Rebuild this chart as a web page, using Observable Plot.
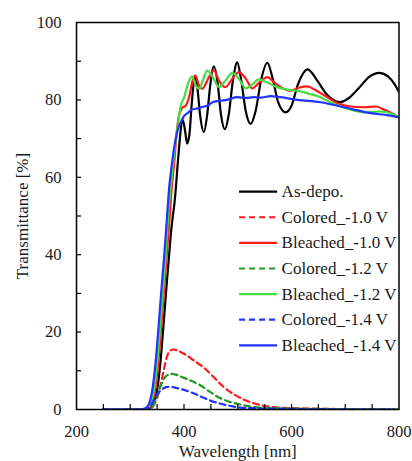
<!DOCTYPE html>
<html>
<head>
<meta charset="utf-8">
<script src="https://cdn.jsdelivr.net/npm/d3@7"></script>
<script src="https://cdn.jsdelivr.net/npm/@observablehq/plot@0.6"></script>
<style>
  html, body { margin: 0; padding: 0; background: #fff; font-family: "Liberation Serif", serif; }
  #chart svg { display: block; }
  svg text, svg tspan { font-family: "Liberation Serif", serif !important; }
</style>
</head>
<body>
<div id="chart"></div>
<script>
// ---- Tick labels ----
const xTicks = [200, 400, 600, 800];
const yTicks = [0, 20, 40, 60, 80, 100];
const xMinorTicks = [250, 300, 350, 400, 450, 500, 550, 600, 650, 700, 750];
const yMinorTicks = [10, 20, 30, 40, 50, 60, 70, 80, 90];

// ---- Series names ----
const seriesNames = ["As-depo.", "Colored_-1.0 V", "Bleached_-1.0 V", "Colored_-1.2 V", "Bleached_-1.2 V", "Colored_-1.4 V", "Bleached_-1.4 V"];

// ---- Series values: [wavelength nm, transmittance %] ----
const asDepo = [
  [250,0],[330,0],[338,0.5],[344,2],[350,5],[356,12],[362,22],[367,31],[372,39.4],[376,46],[379,49.7],
  [382,53],[385,57.5],[388,63],[392,69.5],[395,73.5],[398,74.8],[402,72],[406,68.7],[410,71],[415,80],
  [420,86],[425,83],[430,76],[437,71.7],[443,76],[449,84],[455.6,88.7],[462,85],[469,76],[476,72.4],
  [483,76],[491,85],[499,89.7],[506,85.5],[515,77],[524,73.8],[533,77],[544,85.5],[555,89.6],[565,85.5],
  [575,79.5],[589,76.8],[600,78.5],[612,84],[630,87.9],[648,85],[665,81.5],[690,79.4],[705,80.3],
  [725,83],[745,86],[763,87],[780,86],[792,84],[800,82]
];
const colored10 = [
  [250,0],[335,0],[343,1],[350,3],[356,6],[362,10],[368,13.5],[374,15.2],[381,15.5],[390,15.1],[400,14.4],
  [418,12.7],[437,10.8],[455,8.4],[474,5.8],[493,3.9],[511,2.6],[530,1.6],[549,0.95],[567,0.6],
  [600,0.35],[650,0.2],[700,0.1],[800,0]
];
const bleached10 = [
  [250,0],[325,0],[333,0.3],[340,1.5],[346,5],[352,12],[358,22],[363,31],[368,40],[373,49],[377,57],
  [382,64],[386,71],[390,75.5],[397,78],[403,78.5],[410,81],[416,85],[421.5,86.3],[427,84],[434,82.9],
  [445,85.5],[455.6,87.6],[465,85],[477,83.3],[490,85.5],[502,87.2],[515,85.5],[527,83],[540,84.5],
  [555,85.9],[568,84.5],[580,83.3],[598,82.4],[615,83.2],[629,83.5],[645,82.5],[665,80.8],[688,79],
  [710,78.3],[735,78.1],[757,78.3],[775,77.3],[790,76.3],[800,75.5]
];
const colored12 = [
  [250,0],[335,0],[342,0.8],[348,2.5],[355,5.5],[362,7.8],[368,8.8],[376,9.2],[385,9],[394,8.5],
  [412,7.5],[431,6.2],[449,4.5],[468,2.9],[487,1.9],[505,1.3],[530,0.6],[570,0.35],[620,0.2],
  [700,0.1],[800,0]
];
const bleached12 = [
  [250,0],[323,0],[331,0.3],[338,1.5],[344,5],[350,12],[356,22],[361,31],[366,40],[370,49],[375,57],
  [380,64],[385,70],[390,75],[394,78.6],[400,80.5],[407,84],[415,86.1],[421,84],[428,82.9],[435,85],
  [443,87.6],[453,86],[465,83.3],[477,85],[490,87],[502,85.5],[515,83],[527,84],[539,85.3],[555,84.5],
  [573,83.3],[595,82.6],[617,82.2],[635,81.5],[654,80.7],[670,79.5],[688,78.5],[710,77.5],[735,76.8],
  [766,77],[785,76.5],[800,75.5]
];
const colored14 = [
  [250,0],[330,0],[337,0.8],[344,2.5],[352,4.3],[360,5.3],[367,5.8],[374,5.9],[385,5.6],[394,5.3],
  [412,4.5],[431,3.4],[449,2.3],[468,1.5],[487,0.9],[505,0.5],[540,0.3],[600,0.15],[700,0.05],[800,0]
];
const bleached14 = [
  [250,0],[320,0],[328,0.3],[335,1.5],[341,5],[347,12],[353,22],[358,31],[363,39.4],[368,49],[372,56.6],
  [378,64],[384,69.5],[390,73],[395,74.5],[400,75.8],[406,76.5],[415,77.5],[425,77.8],[435,78.2],
  [443,78.5],[455,79.5],[468,79.8],[480,80],[499,80.7],[515,80.5],[530,80.7],[545,80.6],[561,81],
  [580,80.7],[611,80],[654,79.4],[704,77.9],[747,76.6],[780,76],[800,75.5]
];

const seriesData = [asDepo, colored10, bleached10, colored12, bleached12, colored14, bleached14];
const seriesColors = ["#000000", "#ff1a1a", "#ff1a1a", "#229922", "#44dd44", "#2233ff", "#2233ff"];
const seriesDashed = [false, true, false, true, false, true, false];

const font = "Liberation Serif, serif";

const marks = [];

// curves
seriesData.forEach((d, i) => {
  marks.push(Plot.line(d, {
    x: p => p[0], y: p => p[1],
    stroke: seriesColors[i], strokeWidth: 2.2,
    strokeDasharray: seriesDashed[i] ? "6,4" : null,
    curve: "monotone-x", clip: true
  }));
});

// legend (inside plot)
const legendRows = seriesNames.map((name, i) => ({name, i, y: 56.3 - i * 6.62}));
legendRows.forEach(r => {
  marks.push(Plot.ruleY([r], {
    y: "y", x1: 503.4, x2: 574.2,
    stroke: seriesColors[r.i], strokeWidth: 2.2,
    strokeDasharray: seriesDashed[r.i] ? "6,4" : null
  }));
});
marks.push(Plot.text(legendRows, {
  x: 581.6, y: "y", text: "name", textAnchor: "start", lineAnchor: "middle",
  fontSize: 17, fontFamily: font, fill: "#1a1a1a"
}));

// minor inward ticks
marks.push(Plot.tickX(xMinorTicks, {x: d => d, insetTop: 382, stroke: "#000", strokeWidth: 1.2}));
marks.push(Plot.tickY(yMinorTicks, {y: d => d, insetRight: 317.5, stroke: "#000", strokeWidth: 1.2}));

// axes labels
marks.push(Plot.axisX(xTicks, {tickSize: 0, tickPadding: 16, label: null, fontSize: 16.5, fontFamily: font}));
marks.push(Plot.axisY(yTicks, {tickSize: 0, tickPadding: 15, label: null, fontSize: 16.5, fontFamily: font}));

// axis titles
marks.push(Plot.text(["Wavelength [nm]"], {frameAnchor: "bottom", textAnchor: "middle", lineAnchor: "middle", dy: 42, fontSize: 17, fontFamily: font, fill: "#1a1a1a"}));
marks.push(Plot.text(["Transmittance [%]"], {frameAnchor: "left", textAnchor: "middle", lineAnchor: "middle", dx: -54, rotate: -90, fontSize: 17, fontFamily: font, fill: "#1a1a1a"}));

// frame
marks.push(Plot.frame({stroke: "#000", strokeWidth: 1.5}));

const chart = Plot.plot({
  width: 412,
  height: 461,
  marginLeft: 76,
  marginRight: 13.5,
  marginTop: 22,
  marginBottom: 52,
  x: {domain: [200, 800], axis: null},
  y: {domain: [0, 100], axis: null},
  style: {fontFamily: font, fontSize: "16.5px", color: "#1a1a1a", background: "#fff", overflow: "visible"},
  marks
});
chart.setAttribute("font-family", font);
chart.querySelectorAll("text, tspan, g").forEach(el => {
  el.setAttribute("font-family", font);
  el.style.setProperty("font-family", font, "important");
});
document.getElementById("chart").appendChild(chart);
</script>
</body>
</html>
